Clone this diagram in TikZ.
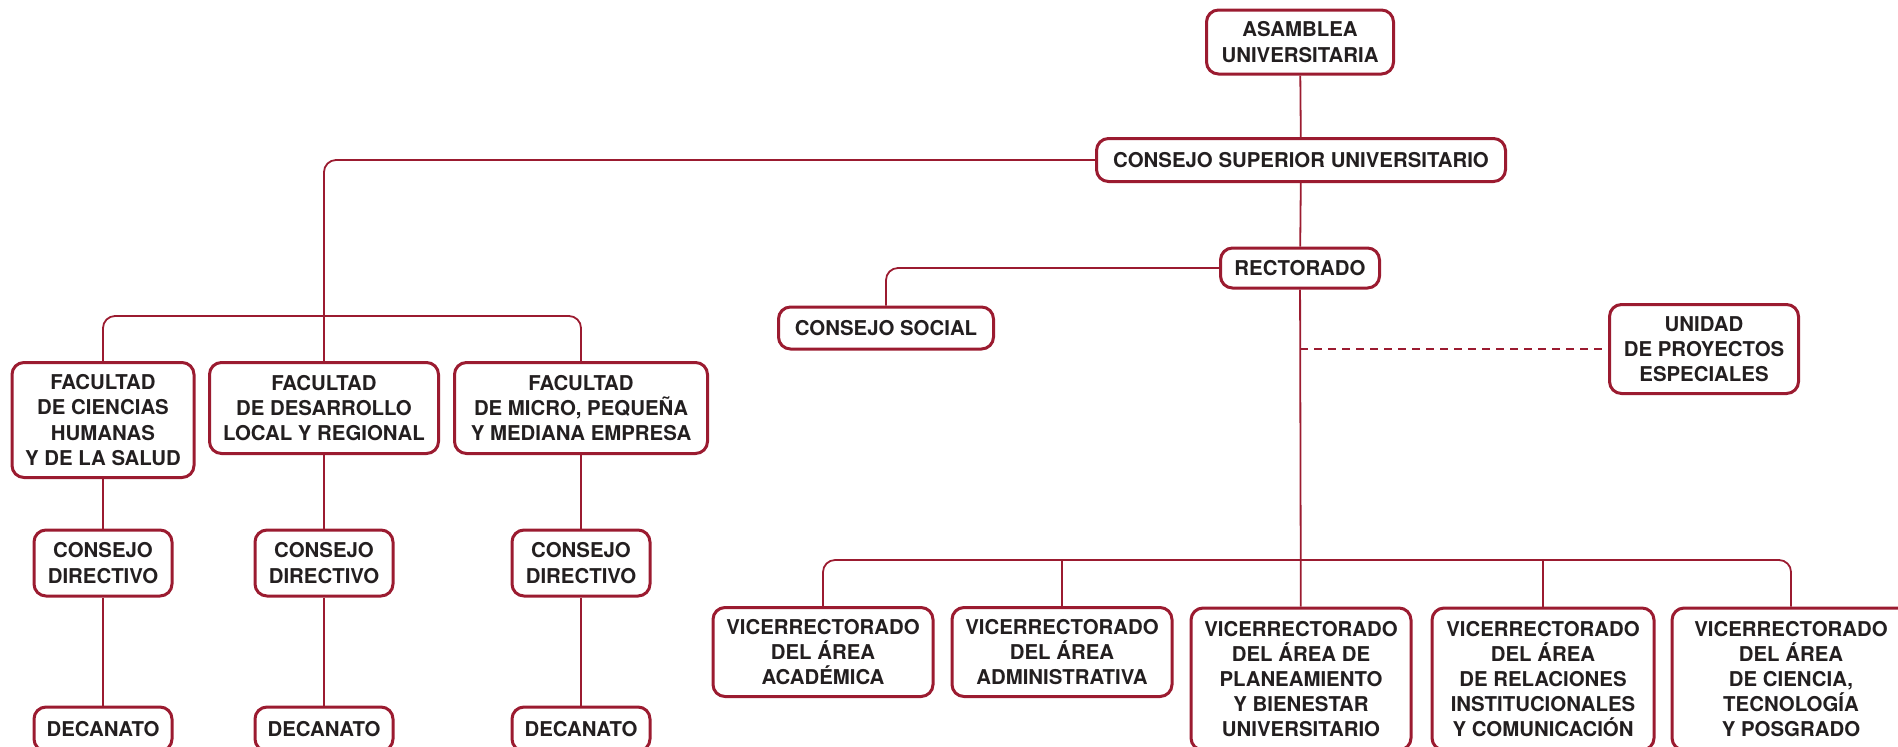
\documentclass[tikz,border=0pt]{standalone}
\usepackage{fontspec}
\setmainfont{TeX Gyre Heros}
\usepackage{tikz}

\definecolor{unired}{HTML}{9B1B30}
\definecolor{unitext}{HTML}{231F20}

\tikzset{
  unit/.style={draw=unired, line width=1.5pt, rounded corners=6pt, fill=white,
    align=center, inner sep=0pt, text=unitext,
    font=\fontsize{10.2}{12.6}\selectfont\bfseries},
  link/.style={draw=unired, line width=0.9pt, rounded corners=6pt},
  dashlink/.style={draw=unired, line width=0.9pt, dash pattern=on 4pt off 3pt}
}

\begin{document}
\begin{tikzpicture}[x=0.5pt, y=-0.5pt]

% Fix the frame of the picture
\useasboundingbox (0,0) rectangle (1898,746);

% Define coordinates for the bars
\coordinate (fbar) at (324,316);
\coordinate (vbar) at (1301,560);

% Top of the chart
\node[unit, minimum width=93.5pt, minimum height=32pt] (asamblea) at (1300,42) {ASAMBLEA\\UNIVERSITARIA};
\node[unit, minimum width=204.5pt, minimum height=21.5pt] (consejo) at (1301,160) {CONSEJO SUPERIOR UNIVERSITARIO};
\node[unit, minimum width=79.5pt, minimum height=20pt] (rectorado) at (1300,268) {RECTORADO};
\node[unit, minimum width=107.5pt, minimum height=21pt] (social) at (886,328) {CONSEJO SOCIAL};
\node[unit, minimum width=94.5pt, minimum height=44.5pt] (unidad) at (1704,349) {UNIDAD\\DE PROYECTOS\\ESPECIALES};

% Faculties
\node[unit, minimum width=91pt, minimum height=57.5pt] (fac1) at (103,420) {FACULTAD\\DE CIENCIAS\\HUMANAS\\Y DE LA SALUD};
\node[unit, minimum width=114.5pt, minimum height=45.5pt] (fac2) at (324,408) {FACULTAD\\DE DESARROLLO\\LOCAL Y REGIONAL};
\node[unit, minimum width=126.5pt, minimum height=45.5pt] (fac3) at (581,408) {FACULTAD\\DE MICRO, PEQUEÑA\\Y MEDIANA EMPRESA};

\node[unit, minimum width=69pt, minimum height=33pt] (dir1) at (103,563) {CONSEJO\\DIRECTIVO};
\node[unit, minimum width=69pt, minimum height=33pt] (dir2) at (324,563) {CONSEJO\\DIRECTIVO};
\node[unit, minimum width=69pt, minimum height=33pt] (dir3) at (581,563) {CONSEJO\\DIRECTIVO};

\node[unit, minimum width=69pt, minimum height=22pt] (dec1) at (103,729) {DECANATO};
\node[unit, minimum width=69pt, minimum height=22pt] (dec2) at (324,729) {DECANATO};
\node[unit, minimum width=69pt, minimum height=22pt] (dec3) at (581,729) {DECANATO};

% Vice-rectorates
\node[unit, minimum width=110pt, minimum height=44.5pt] (vr1) at (823,652) {VICERRECTORADO\\DEL ÁREA\\ACADÉMICA};
\node[unit, minimum width=110pt, minimum height=44.5pt] (vr2) at (1062,652) {VICERRECTORADO\\DEL ÁREA\\ADMINISTRATIVA};
\node[unit, minimum width=110pt, minimum height=71pt] (vr3) at (1301,679) {VICERRECTORADO\\DEL ÁREA DE\\PLANEAMIENTO\\Y BIENESTAR\\UNIVERSITARIO};
\node[unit, minimum width=111pt, minimum height=71pt] (vr4) at (1543,679) {VICERRECTORADO\\DEL ÁREA\\DE RELACIONES\\INSTITUCIONALES\\Y COMUNICACIÓN};
\node[unit, minimum width=119pt, minimum height=71pt] (vr5) at (1791,679) {VICERRECTORADO\\DEL ÁREA\\DE CIENCIA,\\TECNOLOGÍA\\Y POSGRADO};

% Draw the main line
\draw[link] (asamblea) -- (consejo);
\draw[link] (consejo) -- (rectorado);
\draw[link] (rectorado) -- (vr3);
\draw[link] (rectorado.west) -| (social.north);
\draw[dashlink] (rectorado.south |- unidad.west) -- (unidad.west);

% Draw the faculty branch
\draw[link] (consejo.west) -| (fac2.north);
\draw[link] (fac1.north) |- (fbar) -| (fac3.north);
\draw[link] (fac1) -- (dir1);
\draw[link] (fac2) -- (dir2);
\draw[link] (fac3) -- (dir3);
\draw[link] (dir1) -- (dec1);
\draw[link] (dir2) -- (dec2);
\draw[link] (dir3) -- (dec3);

% Draw the vice-rectorate bar
\draw[link] (vr1.north) |- (vbar) -| (vr5.north);
\draw[link] (vr2.north) -- (vr2.north |- vbar);
\draw[link] (vr4.north) -- (vr4.north |- vbar);

\end{tikzpicture}
\end{document}
